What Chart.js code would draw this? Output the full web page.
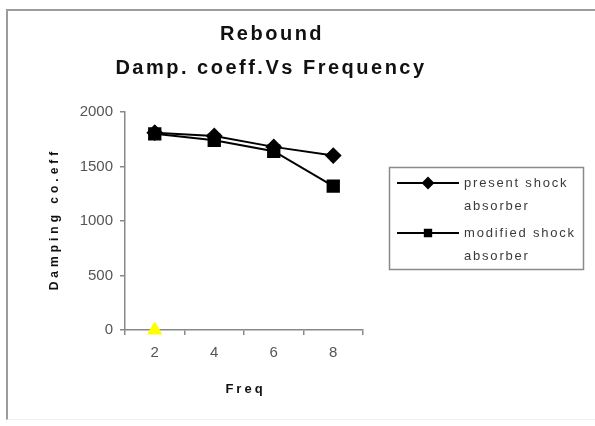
<!DOCTYPE html>
<html>
<head>
<meta charset="utf-8">
<script src="https://cdn.jsdelivr.net/npm/chart.js@4.4.1/dist/chart.umd.min.js"></script>
<style>
  html, body { margin: 0; padding: 0; background: #fff; }
  #wrap { position: relative; width: 595px; height: 426px; overflow: hidden; }
  #frame {
    position: absolute; left: 6px; top: 9px; right: -4px; bottom: 6px;
    border-left: 2px solid #9c9c9c; border-top: 2px solid #9c9c9c;
    border-bottom: 1px solid #f2f2f2;
  }
  canvas { position: absolute; left: 0; top: 0; }
</style>
</head>
<body>
<div id="wrap">
  <div id="frame"></div>
  <canvas id="chart" width="595" height="426"></canvas>
</div>
<script>
// Frequency categories and damping coefficients per shock absorber
const categories = ['2', '4', '6', '8'];
const presentValues = [1810, 1780, 1680, 1600];
const modifiedValues = [1800, 1740, 1640, 1320];
const baseMarker = [0, null, null, null];
const seriesNames = ['present shock absorber', 'modified shock absorber'];
const yTickValues = [0, 500, 1000, 1500, 2000];
const titleLines = ['Rebound', 'Damp. coeff.Vs Frequency'];
const xCaption = 'Freq';
const yCaption = 'Damping co.eff';

const FONT = '"Liberation Sans", Arial, sans-serif';

// Splits a series name into two legend lines (last word on the second line)
function wrapName(name) {
  const i = name.lastIndexOf(' ');
  return i > 0 ? [name.slice(0, i), name.slice(i + 1)] : [name];
}

const captionPlugin = {
  id: 'captions',
  afterDraw(chart) {
    const ctx = chart.ctx;
    const area = chart.chartArea;
    ctx.save();

    // Two-line heading
    ctx.fillStyle = '#111';
    ctx.textAlign = 'center';
    ctx.textBaseline = 'alphabetic';
    ctx.font = 'bold 20px ' + FONT;
    ctx.letterSpacing = '2.5px';
    ctx.fillText(titleLines[0], 272, 40);
    ctx.fillText(titleLines[1], 271, 74);

    // Axis captions
    ctx.textBaseline = 'middle';
    ctx.font = 'bold 13px ' + FONT;
    ctx.letterSpacing = '3px';
    ctx.fillText(xCaption, (area.left + area.right) / 2 + 1.5, 389);

    ctx.save();
    ctx.translate(55, (area.top + area.bottom) / 2);
    ctx.rotate(-Math.PI / 2);
    ctx.font = 'bold 12px ' + FONT;
    ctx.letterSpacing = '4px';
    ctx.fillText(yCaption, 2, 0);
    ctx.restore();

    // Legend box with wrapped series names
    ctx.letterSpacing = '1.8px';
    ctx.lineWidth = 1.5;
    ctx.strokeStyle = '#8a8a8a';
    ctx.strokeRect(389.5, 167.5, 194, 102);

    const rows = [183, 233];
    [0, 1].forEach((k) => {
      const ds = chart.data.datasets[k];
      const y = rows[k];
      ctx.beginPath();
      ctx.strokeStyle = ds.borderColor;
      ctx.lineWidth = 2;
      ctx.moveTo(397, y);
      ctx.lineTo(459, y);
      ctx.stroke();
      ctx.fillStyle = ds.pointBackgroundColor;
      ctx.strokeStyle = ds.pointBorderColor;
      Chart.helpers.drawPoint(ctx, {
        pointStyle: ds.pointStyle,
        radius: ds.pointStyle === 'rect' ? 4.5 : 5,
        rotation: 0,
        borderWidth: 1
      }, 428, y);

      ctx.fillStyle = '#3a3a3a';
      ctx.font = '13px ' + FONT;
      ctx.textAlign = 'left';
      ctx.textBaseline = 'middle';
      wrapName(ds.label).forEach((line, j) => {
        ctx.fillText(line, 464, y + j * 23);
      });
    });

    ctx.restore();
  }
};

new Chart(document.getElementById('chart'), {
  type: 'line',
  data: {
    labels: categories,
    datasets: [
      {
        label: seriesNames[0],
        data: presentValues,
        borderColor: '#000',
        borderWidth: 2,
        pointStyle: 'rectRot',
        pointRadius: 7,
        pointBackgroundColor: '#000',
        pointBorderColor: '#000',
        tension: 0,
        clip: false
      },
      {
        label: seriesNames[1],
        data: modifiedValues,
        borderColor: '#000',
        borderWidth: 2,
        pointStyle: 'rect',
        pointRadius: 8,
        pointBackgroundColor: '#000',
        pointBorderColor: '#000',
        tension: 0,
        clip: false
      },
      {
        label: 'Series3',
        data: baseMarker,
        showLine: false,
        pointStyle: 'triangle',
        pointRadius: 8,
        pointBackgroundColor: '#ffff00',
        pointBorderColor: '#ffff00',
        borderColor: '#ffff00',
        clip: false
      }
    ]
  },
  options: {
    responsive: false,
    animation: false,
    events: [],
    layout: { padding: { left: 0, right: 232, top: 112, bottom: 0 } },
    plugins: {
      legend: { display: false },
      title: { display: false },
      tooltip: { enabled: false }
    },
    scales: {
      x: {
        type: 'category',
        offset: true,
        grid: {
          offset: true,
          drawOnChartArea: false,
          drawTicks: true,
          tickLength: 5,
          color: '#888',
          lineWidth: 1.5
        },
        border: { color: '#888', width: 1.5 },
        ticks: {
          color: '#555',
          font: { family: FONT, size: 15 },
          padding: 9,
          maxRotation: 0
        },
        afterFit(scale) { scale.height = 96; }
      },
      y: {
        min: 0,
        max: 2000,
        afterBuildTicks(scale) {
          scale.ticks = yTickValues.map((v) => ({ value: v }));
        },
        grid: {
          drawOnChartArea: false,
          drawTicks: true,
          tickLength: 5,
          color: '#888',
          lineWidth: 1.5
        },
        border: { color: '#888', width: 1.5 },
        ticks: {
          color: '#555',
          font: { family: FONT, size: 15 },
          padding: 7,
          callback: (value) => String(value)
        },
        afterFit(scale) { scale.width = 125; }
      }
    }
  },
  plugins: [captionPlugin]
});
</script>
</body>
</html>
